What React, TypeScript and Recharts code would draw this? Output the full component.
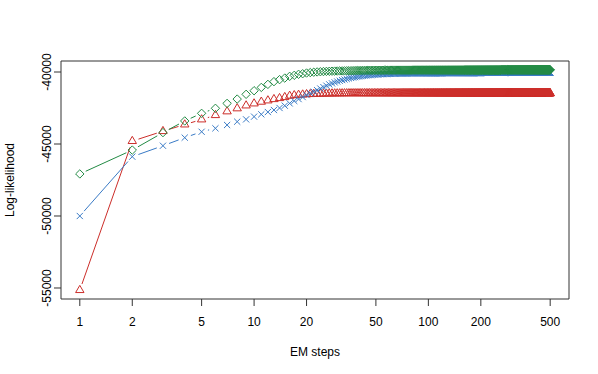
import { LineChart, Line, XAxis, YAxis, ReferenceArea, Label } from 'recharts';

// log-likelihood per EM step (steps 1..500)
const redLL = [
  -55150, -44800, -44110, -43650, -43300, -43000, -42740, -42530, -42330, -42190, -42070, -41980, -41890, -41820, -41750, -41660, -41620, -41590, -41570, -41550,
  -41540, -41530, -41522, -41515, -41510, -41505, -41500, -41496, -41493, -41490, -41488, -41486, -41484, -41482, -41481, -41480, -41480, -41480, -41480, -41480,
  -41480, -41480, -41480, -41480, -41480, -41480, -41480, -41480, -41480, -41480, -41480, -41480, -41480, -41480, -41480, -41480, -41480, -41480, -41480, -41480,
  -41480, -41480, -41480, -41480, -41480, -41480, -41480, -41480, -41480, -41480, -41480, -41480, -41480, -41480, -41480, -41480, -41480, -41480, -41480, -41480,
  -41480, -41480, -41480, -41480, -41480, -41480, -41480, -41480, -41480, -41480, -41480, -41480, -41480, -41480, -41480, -41480, -41480, -41480, -41480, -41480,
  -41480, -41480, -41480, -41480, -41480, -41480, -41480, -41480, -41480, -41480, -41480, -41480, -41480, -41480, -41480, -41480, -41480, -41480, -41480, -41480,
  -41480, -41480, -41480, -41480, -41480, -41480, -41480, -41480, -41480, -41480, -41480, -41480, -41480, -41480, -41480, -41480, -41480, -41480, -41480, -41480,
  -41480, -41480, -41480, -41480, -41480, -41480, -41480, -41480, -41480, -41480, -41480, -41480, -41480, -41480, -41480, -41480, -41480, -41480, -41480, -41480,
  -41480, -41480, -41480, -41480, -41480, -41480, -41480, -41480, -41480, -41480, -41480, -41480, -41480, -41480, -41480, -41480, -41480, -41480, -41480, -41480,
  -41480, -41480, -41480, -41480, -41480, -41480, -41480, -41480, -41480, -41480, -41480, -41480, -41480, -41480, -41480, -41480, -41480, -41480, -41480, -41480,
  -41480, -41480, -41480, -41480, -41480, -41480, -41480, -41480, -41480, -41480, -41480, -41480, -41480, -41480, -41480, -41480, -41480, -41480, -41480, -41480,
  -41480, -41480, -41480, -41480, -41480, -41480, -41480, -41480, -41480, -41480, -41480, -41480, -41480, -41480, -41480, -41480, -41480, -41480, -41480, -41480,
  -41480, -41480, -41480, -41480, -41480, -41480, -41480, -41480, -41480, -41480, -41480, -41480, -41480, -41480, -41480, -41480, -41480, -41480, -41480, -41480,
  -41480, -41480, -41480, -41480, -41480, -41480, -41480, -41480, -41480, -41480, -41480, -41480, -41480, -41480, -41480, -41480, -41480, -41480, -41480, -41480,
  -41480, -41480, -41480, -41480, -41480, -41480, -41480, -41480, -41480, -41480, -41480, -41480, -41480, -41480, -41480, -41480, -41480, -41480, -41480, -41480,
  -41480, -41480, -41480, -41480, -41480, -41480, -41480, -41480, -41480, -41480, -41480, -41480, -41480, -41480, -41480, -41480, -41480, -41480, -41480, -41480,
  -41480, -41480, -41480, -41480, -41480, -41480, -41480, -41480, -41480, -41480, -41480, -41480, -41480, -41480, -41480, -41480, -41480, -41480, -41480, -41480,
  -41480, -41480, -41480, -41480, -41480, -41480, -41480, -41480, -41480, -41480, -41480, -41480, -41480, -41480, -41480, -41480, -41480, -41480, -41480, -41480,
  -41480, -41480, -41480, -41480, -41480, -41480, -41480, -41480, -41480, -41480, -41480, -41480, -41480, -41480, -41480, -41480, -41480, -41480, -41480, -41480,
  -41480, -41480, -41480, -41480, -41480, -41480, -41480, -41480, -41480, -41480, -41480, -41480, -41480, -41480, -41480, -41480, -41480, -41480, -41480, -41480,
  -41480, -41480, -41480, -41480, -41480, -41480, -41480, -41480, -41480, -41480, -41480, -41480, -41480, -41480, -41480, -41480, -41480, -41480, -41480, -41480,
  -41480, -41480, -41480, -41480, -41480, -41480, -41480, -41480, -41480, -41480, -41480, -41480, -41480, -41480, -41480, -41480, -41480, -41480, -41480, -41480,
  -41480, -41480, -41480, -41480, -41480, -41480, -41480, -41480, -41480, -41480, -41480, -41480, -41480, -41480, -41480, -41480, -41480, -41480, -41480, -41480,
  -41480, -41480, -41480, -41480, -41480, -41480, -41480, -41480, -41480, -41480, -41480, -41480, -41480, -41480, -41480, -41480, -41480, -41480, -41480, -41480,
  -41480, -41480, -41480, -41480, -41480, -41480, -41480, -41480, -41480, -41480, -41480, -41480, -41480, -41480, -41480, -41480, -41480, -41480, -41480, -41480,
];

const blueLL = [
  -50000, -45880, -45120, -44560, -44150, -43910, -43680, -43450, -43290, -43100, -42940, -42780, -42640, -42500, -42340, -42180, -42010, -41880, -41740, -41600,
  -41480, -41370, -41260, -41150, -41050, -40950, -40860, -40790, -40720, -40660, -40610, -40560, -40520, -40480, -40440, -40410, -40380, -40355, -40330, -40310,
  -40290, -40270, -40255, -40240, -40225, -40210, -40200, -40190, -40180, -40170, -40165, -40160, -40155, -40150, -40146, -40142, -40138, -40134, -40130, -40127,
  -40124, -40121, -40118, -40115, -40113, -40111, -40109, -40107, -40105, -40103, -40101, -40100, -40099, -40098, -40097, -40096, -40095, -40094, -40093, -40092,
  -40090, -40090, -40090, -40090, -40090, -40090, -40090, -40090, -40090, -40090, -40090, -40090, -40090, -40090, -40090, -40090, -40090, -40090, -40090, -40090,
  -40090, -40090, -40090, -40090, -40090, -40090, -40090, -40090, -40090, -40090, -40090, -40090, -40090, -40090, -40090, -40090, -40090, -40090, -40090, -40090,
  -40075, -40075, -40075, -40075, -40075, -40075, -40075, -40075, -40075, -40075, -40075, -40075, -40075, -40075, -40075, -40075, -40075, -40075, -40075, -40075,
  -40075, -40075, -40075, -40075, -40075, -40075, -40075, -40075, -40075, -40075, -40075, -40075, -40075, -40075, -40075, -40075, -40075, -40075, -40075, -40075,
  -40075, -40075, -40075, -40075, -40075, -40075, -40075, -40075, -40075, -40075, -40075, -40075, -40075, -40075, -40075, -40075, -40075, -40075, -40075, -40075,
  -40075, -40075, -40075, -40075, -40075, -40075, -40075, -40075, -40075, -40075, -40075, -40075, -40075, -40075, -40075, -40075, -40075, -40075, -40075, -40075,
  -40055, -40055, -40055, -40055, -40055, -40055, -40055, -40055, -40055, -40055, -40055, -40055, -40055, -40055, -40055, -40055, -40055, -40055, -40055, -40055,
  -40055, -40055, -40055, -40055, -40055, -40055, -40055, -40055, -40055, -40055, -40055, -40055, -40055, -40055, -40055, -40055, -40055, -40055, -40055, -40055,
  -40055, -40055, -40055, -40055, -40055, -40055, -40055, -40055, -40055, -40055, -40055, -40055, -40055, -40055, -40055, -40055, -40055, -40055, -40055, -40055,
  -40055, -40055, -40055, -40055, -40055, -40055, -40055, -40055, -40055, -40055, -40055, -40055, -40055, -40055, -40055, -40055, -40055, -40055, -40055, -40055,
  -40055, -40055, -40055, -40055, -40055, -40055, -40055, -40055, -40055, -40055, -40055, -40055, -40055, -40055, -40055, -40055, -40055, -40055, -40055, -40055,
  -40040, -40040, -40040, -40040, -40040, -40040, -40040, -40040, -40040, -40040, -40040, -40040, -40040, -40040, -40040, -40040, -40040, -40040, -40040, -40040,
  -40040, -40040, -40040, -40040, -40040, -40040, -40040, -40040, -40040, -40040, -40040, -40040, -40040, -40040, -40040, -40040, -40040, -40040, -40040, -40040,
  -40040, -40040, -40040, -40040, -40040, -40040, -40040, -40040, -40040, -40040, -40040, -40040, -40040, -40040, -40040, -40040, -40040, -40040, -40040, -40040,
  -40040, -40040, -40040, -40040, -40040, -40040, -40040, -40040, -40040, -40040, -40040, -40040, -40040, -40040, -40040, -40040, -40040, -40040, -40040, -40040,
  -40040, -40040, -40040, -40040, -40040, -40040, -40040, -40040, -40040, -40040, -40040, -40040, -40040, -40040, -40040, -40040, -40040, -40040, -40040, -40040,
  -40025, -40025, -40025, -40025, -40025, -40025, -40025, -40025, -40025, -40025, -40025, -40025, -40025, -40025, -40025, -40025, -40025, -40025, -40025, -40025,
  -40025, -40025, -40025, -40025, -40025, -40025, -40025, -40025, -40025, -40025, -40025, -40025, -40025, -40025, -40025, -40025, -40025, -40025, -40025, -40025,
  -40025, -40025, -40025, -40025, -40025, -40025, -40025, -40025, -40025, -40025, -40025, -40025, -40025, -40025, -40025, -40025, -40025, -40025, -40025, -40025,
  -40025, -40025, -40025, -40025, -40025, -40025, -40025, -40025, -40025, -40025, -40025, -40025, -40025, -40025, -40025, -40025, -40025, -40025, -40025, -40025,
  -40025, -40025, -40025, -40025, -40025, -40025, -40025, -40025, -40025, -40025, -40025, -40025, -40025, -40025, -40025, -40025, -40025, -40025, -40025, -40025,
];

const greenLL = [
  -47080, -45420, -44210, -43400, -42870, -42520, -42180, -41880, -41550, -41300, -41070, -40860, -40670, -40530, -40420, -40300, -40230, -40160, -40120, -40070,
  -40040, -40015, -39995, -39980, -39968, -39958, -39950, -39943, -39937, -39932, -39927, -39923, -39919, -39915, -39912, -39909, -39906, -39903, -39900, -39898,
  -39896, -39894, -39892, -39890, -39888, -39886, -39885, -39884, -39883, -39882, -39881, -39880, -39879, -39878, -39877, -39876, -39875, -39874, -39873, -39872,
  -39870, -39870, -39870, -39870, -39870, -39870, -39870, -39870, -39870, -39870, -39870, -39870, -39870, -39870, -39870, -39870, -39870, -39870, -39870, -39870,
  -39865, -39865, -39865, -39865, -39865, -39865, -39865, -39865, -39865, -39865, -39865, -39865, -39865, -39865, -39865, -39865, -39865, -39865, -39865, -39865,
  -39865, -39865, -39865, -39865, -39865, -39865, -39865, -39865, -39865, -39865, -39865, -39865, -39865, -39865, -39865, -39865, -39865, -39865, -39865, -39865,
  -39865, -39865, -39865, -39865, -39865, -39865, -39865, -39865, -39865, -39865, -39865, -39865, -39865, -39865, -39865, -39865, -39865, -39865, -39865, -39865,
  -39865, -39865, -39865, -39865, -39865, -39865, -39865, -39865, -39865, -39865, -39865, -39865, -39865, -39865, -39865, -39865, -39865, -39865, -39865, -39865,
  -39860, -39860, -39860, -39860, -39860, -39860, -39860, -39860, -39860, -39860, -39860, -39860, -39860, -39860, -39860, -39860, -39860, -39860, -39860, -39860,
  -39860, -39860, -39860, -39860, -39860, -39860, -39860, -39860, -39860, -39860, -39860, -39860, -39860, -39860, -39860, -39860, -39860, -39860, -39860, -39860,
  -39860, -39860, -39860, -39860, -39860, -39860, -39860, -39860, -39860, -39860, -39860, -39860, -39860, -39860, -39860, -39860, -39860, -39860, -39860, -39860,
  -39860, -39860, -39860, -39860, -39860, -39860, -39860, -39860, -39860, -39860, -39860, -39860, -39860, -39860, -39860, -39860, -39860, -39860, -39860, -39860,
  -39860, -39860, -39860, -39860, -39860, -39860, -39860, -39860, -39860, -39860, -39860, -39860, -39860, -39860, -39860, -39860, -39860, -39860, -39860, -39860,
  -39855, -39855, -39855, -39855, -39855, -39855, -39855, -39855, -39855, -39855, -39855, -39855, -39855, -39855, -39855, -39855, -39855, -39855, -39855, -39855,
  -39855, -39855, -39855, -39855, -39855, -39855, -39855, -39855, -39855, -39855, -39855, -39855, -39855, -39855, -39855, -39855, -39855, -39855, -39855, -39855,
  -39855, -39855, -39855, -39855, -39855, -39855, -39855, -39855, -39855, -39855, -39855, -39855, -39855, -39855, -39855, -39855, -39855, -39855, -39855, -39855,
  -39855, -39855, -39855, -39855, -39855, -39855, -39855, -39855, -39855, -39855, -39855, -39855, -39855, -39855, -39855, -39855, -39855, -39855, -39855, -39855,
  -39855, -39855, -39855, -39855, -39855, -39855, -39855, -39855, -39855, -39855, -39855, -39855, -39855, -39855, -39855, -39855, -39855, -39855, -39855, -39855,
  -39855, -39855, -39855, -39855, -39855, -39855, -39855, -39855, -39855, -39855, -39855, -39855, -39855, -39855, -39855, -39855, -39855, -39855, -39855, -39855,
  -39855, -39855, -39855, -39855, -39855, -39855, -39855, -39855, -39855, -39855, -39855, -39855, -39855, -39855, -39855, -39855, -39855, -39855, -39855, -39855,
  -39855, -39855, -39855, -39855, -39855, -39855, -39855, -39855, -39855, -39855, -39855, -39855, -39855, -39855, -39855, -39855, -39855, -39855, -39855, -39855,
  -39855, -39855, -39855, -39855, -39855, -39855, -39855, -39855, -39855, -39855, -39855, -39855, -39855, -39855, -39855, -39855, -39855, -39855, -39855, -39855,
  -39855, -39855, -39855, -39855, -39855, -39855, -39855, -39855, -39855, -39855, -39855, -39855, -39855, -39855, -39855, -39855, -39855, -39855, -39855, -39855,
  -39855, -39855, -39855, -39855, -39855, -39855, -39855, -39855, -39855, -39855, -39855, -39855, -39855, -39855, -39855, -39855, -39855, -39855, -39855, -39855,
  -39855, -39855, -39855, -39855, -39855, -39855, -39855, -39855, -39855, -39855, -39855, -39855, -39855, -39855, -39855, -39855, -39855, -39855, -39855, -39855,
];

const xTicks = [1, 2, 5, 10, 20, 50, 100, 200, 500];
const yTicks = [-55000, -50000, -45000, -40000];

const data = redLL.map((v, i) => ({ step: i + 1, red: v, blue: blueLL[i], green: greenLL[i] }));

const X_DOMAIN = [0.78, 641.1];
const Y_DOMAIN = [-55764, -39236];

const FONT = '"Liberation Sans", Arial, Helvetica, sans-serif';
const RED = '#CC2E2A';
const BLUE = '#3A7BC6';
const GREEN = '#238B45';
const GAP = 6.5;

type Kind = 'tri' | 'cross' | 'diamond';

// R type="b": marker plus a line to the next point with a gap around each marker
const makeDot = (kind: Kind, color: string) => (p: any) => {
  const { cx, cy, index, points } = p;
  if (cx == null || cy == null) return <g key={`d-${index}`} />;
  let seg = null;
  const next = points ? points[index + 1] : null;
  if (next && next.x != null && next.y != null) {
    const dx = next.x - cx;
    const dy = next.y - cy;
    const len = Math.hypot(dx, dy);
    if (len > 2 * GAP) {
      const f = GAP / len;
      seg = (
        <line x1={cx + f * dx} y1={cy + f * dy} x2={next.x - f * dx} y2={next.y - f * dy} stroke={color} strokeWidth={1} />
      );
    }
  }
  let mark;
  if (kind === 'tri') {
    mark = <polygon points={`${cx},${cy - 4.8} ${cx + 4.2},${cy + 2.4} ${cx - 4.2},${cy + 2.4}`} fill="none" stroke={color} strokeWidth={1} />;
  } else if (kind === 'diamond') {
    mark = <polygon points={`${cx},${cy - 4.2} ${cx + 4.2},${cy} ${cx},${cy + 4.2} ${cx - 4.2},${cy}`} fill="none" stroke={color} strokeWidth={1} />;
  } else {
    mark = (
      <path d={`M${cx - 3.1},${cy - 3.1}L${cx + 3.1},${cy + 3.1}M${cx - 3.1},${cy + 3.1}L${cx + 3.1},${cy - 3.1}`} stroke={color} strokeWidth={1} fill="none" />
    );
  }
  return (
    <g key={`d-${index}`}>
      {seg}
      {mark}
    </g>
  );
};

const XTick = ({ x, y, payload }: any) => (
  <text x={x} y={y + 20} textAnchor="middle" fontSize={12} fontFamily={FONT} fill="#000">
    {payload.value}
  </text>
);

const YTick = ({ x, y, payload }: any) => (
  <text x={x - 3} y={y} transform={`rotate(-90, ${x - 3}, ${y})`} textAnchor="middle" fontSize={12} fontFamily={FONT} fill="#000">
    {payload.value}
  </text>
);

export default function App() {
  return (
    <div style={{ position: 'absolute', left: 0, top: 0, width: 598, height: 374, background: '#fff' }}>
      <LineChart width={598} height={374} data={data} margin={{ top: 61, right: 29, bottom: 0, left: 0 }}>
        <XAxis
          dataKey="step"
          type="number"
          scale="log"
          domain={X_DOMAIN}
          allowDataOverflow
          ticks={xTicks}
          interval={0}
          height={75}
          axisLine={false}
          tickSize={7}
          tickMargin={0}
          tickLine={{ stroke: '#333' }}
          tick={<XTick />}
        >
          <Label
            content={({ viewBox }: any) => (
              <text x={viewBox.x + viewBox.width / 2} y={viewBox.y + 57} textAnchor="middle" fontSize={12} fontFamily={FONT} fill="#000">
                EM steps
              </text>
            )}
          />
        </XAxis>
        <YAxis
          type="number"
          domain={Y_DOMAIN}
          allowDataOverflow
          ticks={yTicks}
          interval={0}
          width={61}
          axisLine={false}
          tickSize={7}
          tickMargin={0}
          tickLine={{ stroke: '#333' }}
          tick={<YTick />}
        >
          <Label
            content={({ viewBox }: any) => {
              const cx = 14;
              const cy = viewBox.y + viewBox.height / 2;
              return (
                <text x={cx} y={cy} transform={`rotate(-90, ${cx}, ${cy})`} textAnchor="middle" fontSize={12} fontFamily={FONT} fill="#000">
                  Log-likelihood
                </text>
              );
            }}
          />
        </YAxis>
        <Line dataKey="red" stroke="none" dot={makeDot('tri', RED)} activeDot={false} isAnimationActive={false} />
        <Line dataKey="blue" stroke="none" dot={makeDot('cross', BLUE)} activeDot={false} isAnimationActive={false} />
        <Line dataKey="green" stroke="none" dot={makeDot('diamond', GREEN)} activeDot={false} isAnimationActive={false} />
        <ReferenceArea x1={X_DOMAIN[0]} x2={X_DOMAIN[1]} y1={Y_DOMAIN[0]} y2={Y_DOMAIN[1]} fill="none" stroke="#333" strokeWidth={1} ifOverflow="visible" />
      </LineChart>
    </div>
  );
}
